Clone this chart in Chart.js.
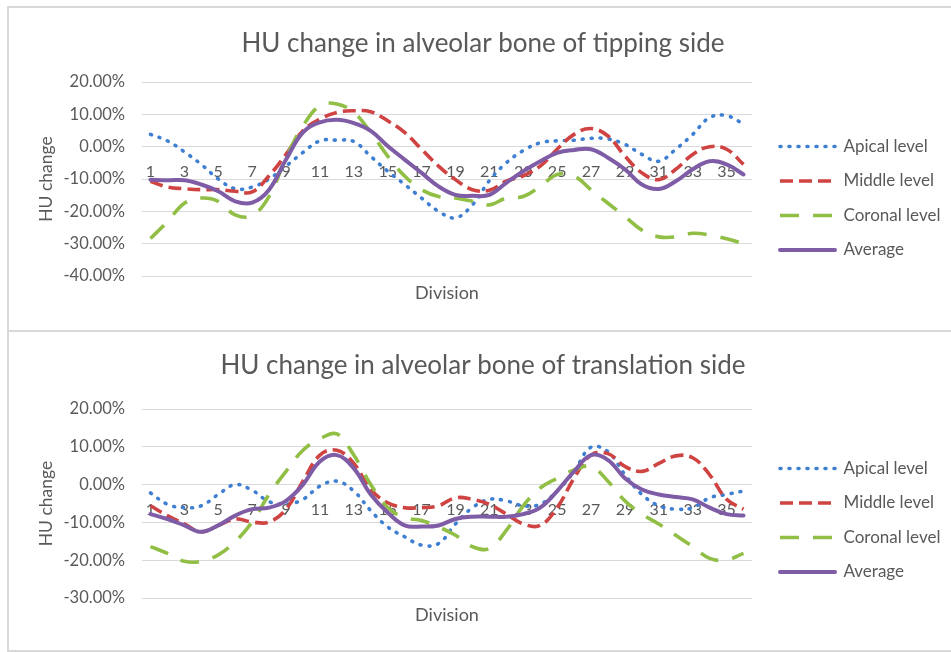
<!DOCTYPE html>
<html lang="en">
<head>
<meta charset="UTF-8">
<title>HU change in alveolar bone</title>
<script src="https://cdn.jsdelivr.net/npm/chart.js@4.4.1/dist/chart.umd.min.js"></script>
<style>
  html, body { margin: 0; padding: 0; background: #fff; overflow: hidden; }
  .panel { position: absolute; left: 7px; width: 1000px; border: 2px solid #d9d9d9; box-sizing: border-box; }
  canvas { position: absolute; }
</style>
</head>
<body>
<div class="panel" style="top:6px; height:326px;"></div>
<div class="panel" style="top:330px; height:322px;"></div>
<!-- the chart boxes run past the right edge of the window, as in the original -->
<canvas id="tipping" width="1000" height="320" style="left:9px; top:8px;"></canvas>
<canvas id="translation" width="1000" height="314" style="left:9px; top:334px;"></canvas>

<script>
// divisions along the alveolar bone
const divisions = ['1', '2', '3', '4', '5', '6', '7', '8', '9', '10', '11', '12',
  '13', '14', '15', '16', '17', '18', '19', '20', '21', '22', '23', '24',
  '25', '26', '27', '28', '29', '30', '31', '32', '33', '34', '35', '36'];

const seriesNames = ['Apical level', 'Middle level', 'Coronal level', 'Average'];

// HU change (%) - tipping side
const tipApical = [3.8, 1.8, -1.6, -5.5, -10, -13, -12.5, -10, -6, -1.8, 1.8, 2,
  1.6, -3, -7.6, -11.7, -15.9, -20, -22, -18, -10.5, -5, -1.2, 1.2,
  1.8, 2, 2.6, 2.4, 0.7, -2.4, -4.5, -0.8, 3.8, 9, 9.6, 7];
const tipMiddle = [-10.7, -12.5, -13, -13.3, -13.3, -13.8, -14, -9, -2.4, 4.9, 8.5, 10.6,
  11.1, 10.8, 8, 4.4, -0.8, -6, -10.2, -13.3, -13.5, -10.7, -9, -6,
  -0.8, 3.8, 5.6, 3.3, -2.9, -8.1, -10.2, -7, -2.4, 0, -0.8, -5.5];
const tipCoronal = [-28.4, -23.2, -17.5, -15.9, -16.9, -21.1, -21.3, -15.4, -3.4, 6.4, 12.7, 13.2,
  10.6, 4.4, -2.9, -9.1, -13.3, -15.4, -15.9, -16.9, -18, -15.9, -15.4, -12.3,
  -8.6, -9.1, -13.3, -17.5, -21.6, -25.8, -27.9, -27.9, -26.8, -27.3, -28.5, -30];
const tipAverage = [-10.2, -10.4, -10.4, -11.7, -13.8, -16.9, -17.3, -13.3, -4, 4.4, 7.5, 8.3,
  7.3, 4.9, 0.2, -4, -8.1, -12.3, -14.9, -15.2, -14.9, -11.2, -7.6, -4.5,
  -1.9, -1, -0.8, -3.4, -7, -11.7, -13.1, -10.7, -7, -4.5, -5.5, -8.6];

// HU change (%) - translation side
const trApical = [-2.2, -5.2, -6.1, -5.6, -2.6, 0, -1.5, -4.5, -5.2, -3.9, -0.4, 0.9,
  -1.7, -6.9, -11.2, -13.8, -16, -15.6, -10.4, -6.1, -3.9, -4.3, -5.6, -5.2,
  -1.7, 3.5, 9.9, 8.7, 2.6, -2.6, -5.6, -6.5, -6.1, -3.5, -2.6, -1.7];
const trMiddle = [-5.6, -8.2, -10.4, -12.5, -10.8, -9.1, -9.9, -9.9, -6.5, 0.9, 7.8, 9.1,
  5.6, -1.3, -4.8, -6.1, -6.1, -5.6, -3.5, -3.9, -5.2, -7.8, -10.4, -10.8,
  -6.1, 1.7, 7.8, 8.2, 4.8, 3.5, 5.6, 7.6, 7.1, 2.6, -3.9, -6.5];
const trCoronal = [-16.4, -18.2, -20.3, -20.3, -18.6, -15.1, -9.9, -2.6, 3.5, 9.1, 12.1, 13.4,
  7.8, 0, -6.1, -8.7, -9.5, -11.2, -13.4, -16.4, -16.9, -12.1, -5.6, -0.9,
  1.7, 3.9, 4.8, 0.9, -4.3, -7.8, -10.4, -13.4, -16.4, -19.5, -19.9, -18.2];
const trAverage = [-7.8, -9.1, -10.8, -12.5, -10.8, -8.2, -6.5, -6.1, -4.3, 0, 6.1, 7.8,
  4.3, -2.6, -7.4, -10.8, -11.1, -10.8, -9.1, -8.5, -8.5, -8.5, -7.8, -6.1,
  -1.7, 3.5, 7.8, 6.5, 1.7, -1.3, -2.6, -3.3, -3.9, -6.1, -7.8, -8.2];

const FONT = 'Lato, "Open Sans", sans-serif';
const TEXT = '#595959';
const GRID = '#d9d9d9';

// line looks, same order as seriesNames
const lineStyles = [
  { color: '#3f7fd2', dash: [1, 8], cap: 'round', width: 3.6 },
  { color: '#cf4442', dash: [13, 6], cap: 'butt', width: 3.6 },
  { color: '#91bf45', dash: [19, 14], cap: 'butt', width: 3.6 },
  { color: '#7f5ca6', dash: [], cap: 'round', width: 4 }
];

// plot box in canvas px; the legend width is measured so the plot stays put
const PLOT_LEFT = 133;
const PLOT_RIGHT = 743;
const TITLE_CENTER = 474;
const LEGEND_FONT = 17;
const LEGEND_PAD = 17.5;
const LEGEND_LINE = 55;
const measure = document.createElement('canvas').getContext('2d');
measure.font = LEGEND_FONT + 'px ' + FONT;
const longest = Math.max(...seriesNames.map(n => measure.measureText(n).width));
const legendWidth = LEGEND_PAD + LEGEND_LINE + LEGEND_FONT / 2 + longest + 10;
const spacer = 28 - LEGEND_PAD;

function makeChart(id, title, series, opts) {
  const canvas = document.getElementById(id);
  const rightPad = canvas.width - PLOT_RIGHT - spacer - legendWidth;
  // the title is centred between the paddings
  const leftPad = Math.max(0, 2 * TITLE_CENTER - canvas.width + rightPad);

  const datasets = series.map((values, i) => ({
    label: seriesNames[i],
    data: values,
    borderColor: lineStyles[i].color,
    backgroundColor: lineStyles[i].color,
    borderWidth: lineStyles[i].width,
    borderDash: lineStyles[i].dash,
    borderCapStyle: lineStyles[i].cap,
    pointRadius: 0,
    tension: 0.4,
    fill: false,
    order: series.length - i   // average drawn on top
  }));

  return new Chart(canvas, {
    type: 'line',
    data: { labels: divisions, datasets },
    options: {
      responsive: false,
      animation: false,
      layout: { padding: { left: leftPad, right: rightPad, top: 0, bottom: 0 } },
      plugins: {
        title: {
          display: true,
          text: title,
          color: TEXT,
          font: { family: FONT, size: 26, weight: 'normal', lineHeight: '26px' },
          padding: { top: opts.titleTop, bottom: opts.titleBottom }
        },
        legend: {
          position: 'right',
          align: 'end',
          fullSize: false,
          maxWidth: 400,   // otherwise the layout caps it and cuts the text
          labels: {
            usePointStyle: true,
            pointStyle: 'line',
            pointStyleWidth: LEGEND_LINE,
            padding: LEGEND_PAD,
            color: TEXT,
            font: { family: FONT, size: LEGEND_FONT },
            // dashes come from the datasets, not from the point style
            generateLabels: chart => chart.data.datasets.map((ds, i) => ({
              text: ds.label,
              datasetIndex: i,
              fillStyle: ds.borderColor,
              strokeStyle: ds.borderColor,
              lineWidth: ds.borderWidth,
              lineDash: ds.borderDash,
              lineCap: ds.borderCapStyle,
              pointStyle: 'line',
              fontColor: TEXT,
              hidden: false
            }))
          }
        },
        tooltip: { enabled: false }
      },
      scales: {
        x: {
          position: { y: 0 },
          offset: true,
          grid: { display: false },
          border: { display: false },
          ticks: {
            autoSkip: false,
            maxRotation: 0,
            padding: 8,
            color: TEXT,
            font: { family: FONT, size: 16 },
            callback: function (v, i) { return i % 2 === 0 ? this.getLabelForValue(v) : ''; }
          },
          afterFit: s => { s.height = 0; }
        },
        x2: {
          position: 'bottom',
          grid: { display: false },
          border: { display: false },
          ticks: { display: false },
          title: {
            display: true,
            text: 'Division',
            color: TEXT,
            font: { family: FONT, size: 18, lineHeight: '18px' },
            padding: { top: 0, bottom: opts.divisionBottom }
          },
          afterFit: s => { s.height = opts.bottomSpace; }
        },
        y: {
          min: opts.yMin,
          max: opts.yMax,
          grid: { color: GRID, lineWidth: 1, drawTicks: false },
          border: { display: false },
          ticks: {
            stepSize: 10,
            padding: 17,
            color: TEXT,
            font: { family: FONT, size: 16.5 },
            callback: v => v.toFixed(2) + '%'
          },
          title: {
            display: true,
            text: 'HU change',
            color: TEXT,
            font: { family: FONT, size: 17.5, lineHeight: '18px' },
            padding: { top: 28.5 - leftPad, bottom: 0 }
          },
          afterFit: s => { s.width = PLOT_LEFT - leftPad; }
        },
        // spacer between plot and legend
        gap: {
          position: 'right',
          grid: { display: false },
          border: { display: false },
          ticks: { display: false },
          afterFit: s => { s.width = spacer; }
        }
      }
    }
  });
}

makeChart('tipping', 'HU change in alveolar bone of tipping side',
  [tipApical, tipMiddle, tipCoronal, tipAverage],
  { yMin: -40, yMax: 20, titleTop: 23, titleBottom: 25, bottomSpace: 52, divisionBottom: 26 });

makeChart('translation', 'HU change in alveolar bone of translation side',
  [trApical, trMiddle, trCoronal, trAverage],
  { yMin: -30, yMax: 20, titleTop: 19, titleBottom: 30, bottomSpace: 50, divisionBottom: 24 });
</script>
</body>
</html>
